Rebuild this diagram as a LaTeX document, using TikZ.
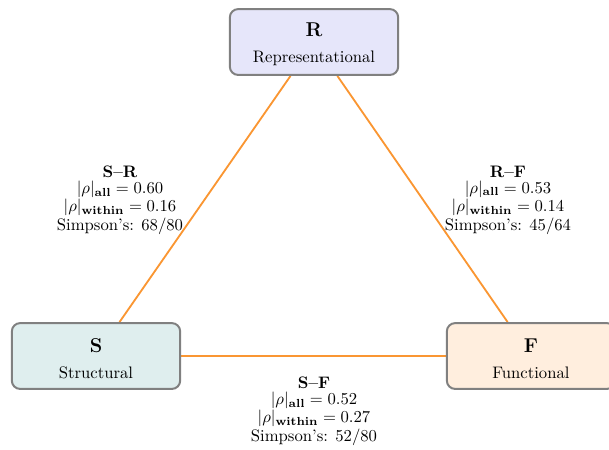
\documentclass[tikz,border=0pt]{standalone}
\usepackage{amsmath}
\usepackage{tikz}
\usetikzlibrary{positioning,backgrounds}
\definecolor{edgeor}{RGB}{250,150,50}
\definecolor{repfill}{RGB}{230,230,250}
\definecolor{strfill}{RGB}{223,238,238}
\definecolor{funfill}{RGB}{255,238,222}
\tikzset{
  vert/.style={draw=gray,line width=1.2pt,rounded corners=5pt,align=center,minimum width=101pt,minimum height=39.5pt,inner sep=0pt},
  link/.style={draw=edgeor,line width=1.1pt},
  lbl/.style={align=center,inner sep=1pt,font={\fontsize{10pt}{9.8pt}\selectfont}}
}
\begin{document}
\begin{tikzpicture}[x=0.6pt,y=-0.6pt]
\useasboundingbox (0,0) rectangle (609,449);
% vertices
\node[vert,fill=repfill] (R) at (314,42) {{\large\bfseries\rule{0pt}{11.5pt}R}\\[3.6pt]Representational};
\node[vert,fill=strfill] (S) at (96,356) {{\large\bfseries\rule{0pt}{11.5pt}S}\\[3.6pt]Structural};
\node[vert,fill=funfill] (F) at (531,356) {{\large\bfseries\rule{0pt}{11.5pt}F}\\[3.6pt]Functional};
% edges
\begin{scope}[on background layer]
\draw[link] (S) -- (R);
\draw[link] (R) -- (F);
\draw[link] (S) -- (F);
\end{scope}
% edge labels
\node[lbl] (lSR) at (120,200) {\textbf{S--R}\\$|\rho|_{\mathbf{all}}=0.60$\\$|\rho|_{\mathbf{within}}=0.16$\\Simpson's: 68/80};
\node[lbl] (lRF) at (508,200) {\textbf{R--F}\\$|\rho|_{\mathbf{all}}=0.53$\\$|\rho|_{\mathbf{within}}=0.14$\\Simpson's: 45/64};
\node[lbl] (lSF) at (314,411) {\textbf{S--F}\\$|\rho|_{\mathbf{all}}=0.52$\\$|\rho|_{\mathbf{within}}=0.27$\\Simpson's: 52/80};
\end{tikzpicture}
\end{document}
